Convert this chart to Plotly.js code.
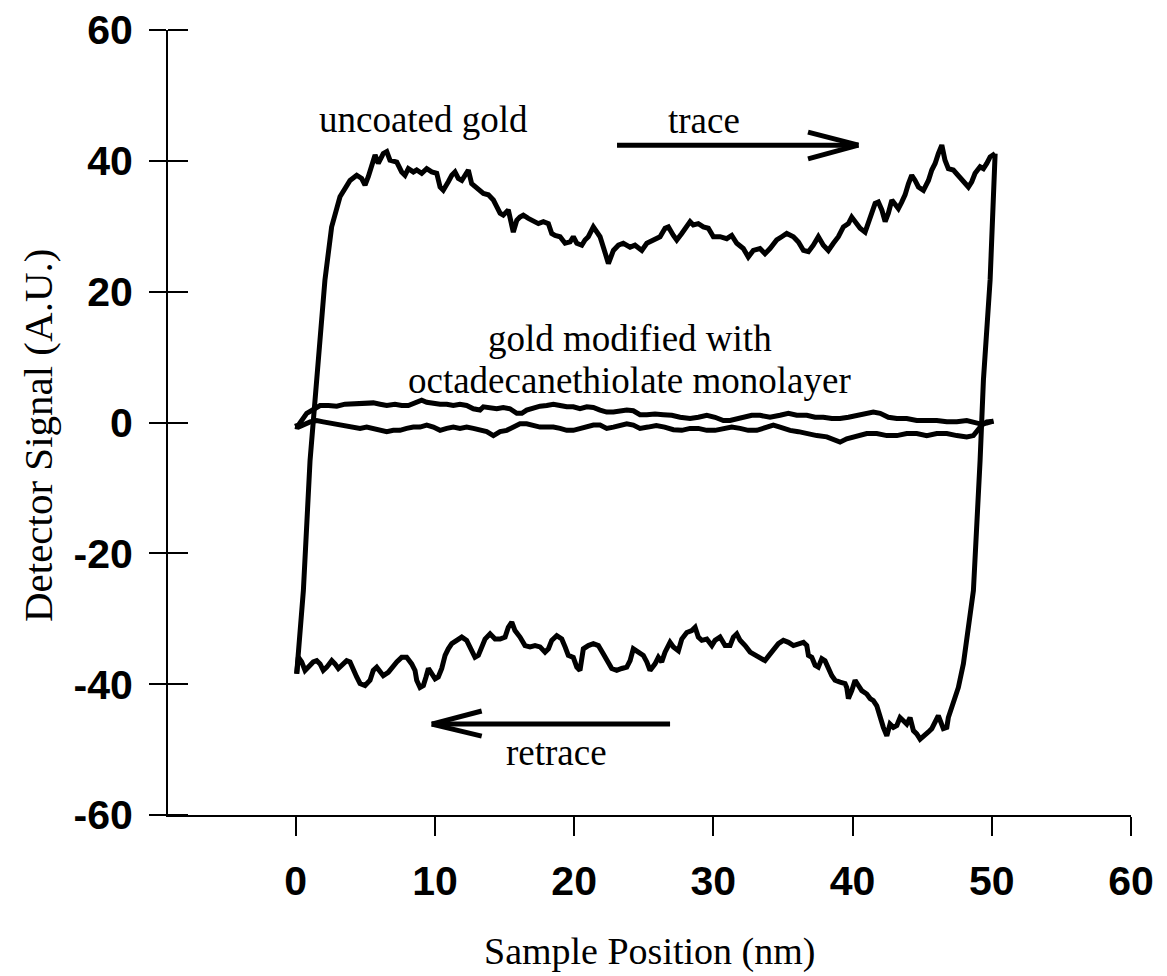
<!DOCTYPE html>
<html>
<head>
<meta charset="utf-8">
<script src="https://cdn.plot.ly/plotly-3.0.1.min.js"></script>
<style>
  html, body { margin: 0; padding: 0; background: #ffffff; }
  #chart { width: 1167px; height: 976px; }
</style>
</head>
<body>
<div id="chart"></div>
<script>
// ---- Tick labels ----
const xTickVals = [0, 10, 20, 30, 40, 50, 60];
const xTickText = ['0', '10', '20', '30', '40', '50', '60'];
const yTickVals = [-60, -40, -20, 0, 20, 40, 60];
const yTickText = ['-60', '-40', '-20', '0', '20', '40', '60'];

// ---- Uncoated gold: trace (left -> right, top branch) ----
const uncoatedTraceX = [0.07,0.55,1.03,1.51,2.10,2.58,3.18,3.90,4.38,4.74,4.98,5.22,5.53,5.70,5.93,6.06,6.29,6.54,6.77,7.26,7.61,7.85,8.09,8.45,8.69,9.05,9.41,9.77,10.13,10.37,10.60,10.96,11.21,11.44,11.68,11.93,12.16,12.40,12.64,13.00,13.48,13.84,14.20,14.44,14.68,14.91,15.27,15.63,15.88,16.11,16.35,16.71,17.07,17.43,17.79,18.15,18.39,18.63,18.99,19.35,19.71,19.94,20.19,20.55,20.78,21.02,21.38,21.62,21.86,22.10,22.46,22.82,23.18,23.53,24.02,24.37,24.86,25.22,25.69,26.17,26.53,26.77,27.13,27.37,27.73,28.09,28.33,28.56,28.92,29.28,29.64,30.00,30.48,30.96,31.32,31.68,32.15,32.51,32.87,33.35,33.71,34.07,34.55,34.91,35.27,35.75,36.11,36.47,36.83,37.18,37.54,37.90,38.26,38.62,38.98,39.34,39.70,39.94,40.18,40.54,40.90,41.13,41.38,41.62,41.85,42.10,42.34,42.57,42.82,43.05,43.29,43.53,43.77,44.01,44.25,44.49,44.73,45.09,45.45,45.69,45.93,46.16,46.41,46.64,46.88,47.24,47.60,47.96,48.32,48.56,48.80,49.16,49.40,49.64,49.88,50.24];
const uncoatedTraceY = [-38.4,-25.7,-5.8,6.5,21.8,29.9,34.5,37.0,37.8,37.3,36.3,37.6,39.6,40.9,39.6,40.1,41.1,41.4,40.1,39.8,38.3,37.8,38.8,38.3,38.6,38.1,38.8,38.3,38.1,36.0,35.5,36.8,37.8,38.3,37.3,37.0,37.8,38.6,36.5,35.8,35.0,34.8,34.0,33.0,32.0,31.7,32.5,29.1,30.9,31.4,31.7,31.2,30.9,30.4,30.7,30.4,28.9,28.6,28.4,27.4,27.6,28.4,27.4,27.1,27.9,28.4,29.9,29.1,28.4,26.8,24.3,26.3,27.1,27.4,26.8,27.1,26.3,27.4,27.9,28.4,29.7,29.9,28.6,27.9,28.9,29.9,30.7,30.2,30.4,29.9,29.7,28.4,28.4,28.1,28.6,27.4,26.6,25.3,26.3,26.6,25.8,26.6,27.9,28.4,28.9,28.4,27.6,26.3,26.1,27.1,28.4,27.1,26.3,27.4,28.4,29.9,30.4,31.4,30.7,29.7,29.1,30.4,32.2,33.5,33.7,32.5,30.7,32.0,34.0,33.2,32.7,33.7,34.8,36.5,37.8,37.0,36.0,35.5,37.0,38.6,39.6,41.1,42.4,40.1,38.8,38.6,37.8,37.0,36.0,36.8,38.1,39.1,38.8,39.6,40.6,41.1];

// ---- Uncoated gold: retrace (right -> left, bottom branch) ----
const uncoatedRetraceX = [50.24,49.88,49.40,49.16,48.68,48.32,47.96,47.60,47.24,46.88,46.77,46.52,46.16,45.93,45.69,45.45,45.09,44.85,44.61,44.37,44.13,43.89,43.65,43.41,43.18,42.93,42.69,42.46,42.21,41.98,41.74,41.49,41.26,41.02,40.66,40.42,40.18,39.94,39.70,39.58,39.46,39.10,38.74,38.51,38.26,38.02,37.79,37.54,37.31,37.07,36.83,36.71,36.47,36.11,35.75,35.39,35.03,34.67,34.31,34.07,33.71,33.35,32.99,32.64,32.28,31.92,31.68,31.44,31.20,30.84,30.48,30.12,29.89,29.53,29.17,28.92,28.69,28.45,28.09,27.73,27.49,27.13,26.89,26.53,26.29,26.05,25.81,25.45,25.22,24.97,24.61,24.25,24.02,23.78,23.42,23.06,22.70,22.46,22.10,21.74,21.38,21.02,20.66,20.42,20.19,19.94,19.58,19.35,19.11,18.75,18.39,18.15,17.91,17.55,17.19,16.83,16.47,16.11,15.75,15.52,15.27,15.04,14.68,14.32,13.96,13.60,13.36,13.12,12.88,12.64,12.28,11.93,11.57,11.21,10.96,10.73,10.49,10.24,10.01,9.77,9.53,9.36,9.17,8.93,8.69,8.57,8.33,7.97,7.61,7.26,6.90,6.65,6.29,6.06,5.82,5.57,5.34,4.98,4.62,4.38,4.14,3.90,3.66,3.30,3.06,2.82,2.59,2.23,1.98,1.75,1.51,1.26,0.91,0.67,0.43,0.19,0.07];
const uncoatedRetraceY = [41.1,21.8,6.5,-5.8,-25.7,-30.8,-36.9,-40.5,-43.0,-45.1,-46.6,-46.8,-44.8,-45.8,-46.8,-47.3,-48.1,-48.4,-47.6,-47.1,-45.1,-46.1,-45.6,-45.1,-46.3,-46.6,-46.1,-47.9,-46.6,-45.1,-43.3,-42.5,-42.2,-41.5,-41.0,-40.2,-39.4,-41.0,-42.2,-40.5,-39.9,-39.7,-39.4,-38.7,-37.6,-36.4,-36.1,-37.4,-37.1,-35.9,-35.6,-34.1,-33.6,-33.8,-34.1,-33.6,-33.3,-33.8,-34.6,-35.4,-36.4,-35.9,-35.4,-35.1,-34.1,-33.3,-32.3,-32.8,-34.1,-34.1,-32.8,-33.3,-34.1,-33.1,-33.3,-32.8,-31.3,-31.8,-32.1,-33.1,-34.9,-34.3,-33.6,-35.1,-36.6,-35.9,-36.9,-37.9,-36.6,-35.6,-35.1,-34.6,-36.4,-37.4,-37.6,-37.9,-37.6,-36.6,-35.4,-34.1,-33.8,-34.1,-34.6,-37.9,-37.4,-35.9,-35.6,-34.3,-33.1,-32.6,-33.3,-34.6,-35.1,-34.3,-34.1,-34.3,-34.1,-32.8,-31.8,-30.5,-31.3,-32.8,-33.1,-33.1,-32.3,-33.1,-34.3,-35.6,-35.9,-34.9,-33.3,-32.8,-33.3,-33.8,-34.6,-35.6,-37.6,-38.9,-39.2,-38.4,-37.6,-38.9,-40.2,-40.5,-39.4,-37.9,-36.9,-35.9,-35.9,-36.6,-37.6,-38.2,-38.7,-37.9,-37.4,-37.9,-39.4,-40.2,-39.9,-38.9,-37.6,-36.6,-36.4,-37.1,-37.6,-36.9,-36.4,-37.4,-37.9,-36.9,-36.4,-36.6,-37.4,-37.9,-36.6,-35.9,-38.4];

// ---- Gold modified with octadecanethiolate monolayer ----
const monoTraceX = [-0.05,0.19,0.79,1.27,1.75,2.35,2.95,3.54,4.14,4.62,5.10,5.58,6.06,6.54,7.13,7.61,8.09,8.57,9.05,9.41,9.89,10.37,10.85,11.32,11.80,12.28,12.76,13.24,13.48,13.96,14.44,14.91,15.39,15.88,16.24,16.59,17.07,17.55,18.03,18.51,18.99,19.47,19.94,20.42,20.91,21.38,21.86,22.34,22.82,23.30,23.78,24.25,24.73,25.22,25.81,26.41,27.01,27.61,28.33,28.92,29.53,30.12,30.72,31.20,31.68,32.16,32.76,33.35,34.07,34.79,35.39,35.99,36.71,37.31,37.90,38.51,39.10,39.70,40.30,41.02,41.49,41.98,42.57,43.18,43.89,44.61,45.33,46.05,46.77,47.49,48.20,48.68,49.16,49.64,50.12];
const monoTraceY = [-0.6,-0.4,1.4,2.1,2.6,2.6,2.5,2.8,2.9,3.0,3.1,3.0,2.8,2.6,2.8,2.6,2.6,3.0,3.4,3.1,2.9,2.8,2.8,2.6,2.8,2.6,2.1,1.9,2.4,2.3,2.1,2.3,2.1,1.4,1.4,1.9,2.3,2.5,2.6,2.8,2.6,2.4,2.4,2.1,2.4,2.3,1.9,1.6,1.6,1.8,1.9,1.8,1.2,1.2,1.3,1.2,1.1,0.8,0.6,0.8,1.1,0.8,0.3,0.3,0.6,0.8,1.1,1.1,0.8,1.1,1.4,1.1,1.1,0.8,0.8,0.6,0.6,0.8,1.1,1.4,1.6,1.4,0.8,0.6,0.6,0.3,0.3,0.3,0.1,0.1,0.3,0.1,-0.2,-0.1,0.2];
const monoRetraceX = [-0.05,0.19,1.03,1.51,1.98,2.70,3.42,4.14,4.62,5.10,5.58,6.06,6.54,7.01,7.49,7.97,8.45,8.93,9.41,9.89,10.37,10.85,11.32,11.80,12.28,12.76,13.24,13.72,14.20,14.68,15.16,15.63,16.11,16.59,17.07,17.55,18.03,18.51,18.99,19.47,19.94,20.42,20.91,21.38,21.86,22.34,22.82,23.30,23.78,24.25,24.73,25.30,25.90,26.50,27.13,27.73,28.33,28.92,29.53,30.12,30.72,31.32,31.92,32.51,33.12,33.84,34.31,34.79,35.51,36.11,36.71,37.43,38.15,38.74,39.10,39.58,40.30,41.02,41.74,42.46,43.18,43.89,44.61,45.33,46.05,46.77,47.49,48.20,48.68,49.04,49.28,49.64,50.12];
const monoRetraceY = [-0.6,-0.7,0.1,0.3,0.1,-0.2,-0.4,-0.7,-0.9,-0.7,-0.9,-1.2,-1.4,-1.2,-1.2,-0.9,-0.7,-0.7,-0.4,-0.7,-1.2,-0.9,-0.7,-0.9,-0.7,-0.9,-1.2,-1.4,-2.0,-1.4,-1.2,-0.7,-0.2,-0.2,-0.4,-0.7,-0.7,-0.7,-0.9,-1.2,-1.2,-0.9,-0.7,-0.4,-0.4,-0.9,-0.7,-0.4,-0.2,-0.4,-0.9,-0.7,-0.45,-0.7,-1.1,-1.2,-0.9,-0.9,-1.2,-1.2,-0.9,-0.7,-0.9,-1.2,-1.2,-0.7,-0.4,-0.7,-1.2,-1.4,-1.7,-2.0,-2.2,-2.7,-3.0,-2.5,-2.0,-1.7,-1.7,-2.0,-2.0,-1.7,-1.7,-2.0,-1.7,-1.7,-2.0,-2.2,-2.0,-1.2,-0.4,0.1,0.2];

// ---- Text ----
const labelUncoated = 'uncoated gold';
const labelMono1 = 'gold modified with';
const labelMono2 = 'octadecanethiolate monolayer';
const labelTrace = 'trace';
const labelRetrace = 'retrace';
const xTitle = 'Sample Position (nm)';
const yTitle = 'Detector Signal (A.U.)';

const lineStyle = { color: '#000000', width: 5 };
function series(x, y, axis) {
  return { x: x, y: y, type: 'scatter', mode: 'lines', line: lineStyle,
           hoverinfo: 'skip', yaxis: axis || 'y' };
}

// monolayer loop drawn on the overlaid twin axis (identical range)
const data = [
  series(uncoatedTraceX, uncoatedTraceY),
  series(uncoatedRetraceX, uncoatedRetraceY),
  series(monoTraceX, monoTraceY, 'y2'),
  series(monoRetraceX, monoRetraceY, 'y2')
];

const serif = 'Liberation Serif, Times New Roman, serif';
const sans = 'Liberation Sans, Arial, Helvetica, sans-serif';
const tickFont = { family: sans, size: 41, weight: 'bold', color: '#000000' };
const annFont = { family: serif, size: 37, color: '#000000' };

function txt(text, x, y, extra) {
  return Object.assign({ text: text, x: x, y: y, xref: 'x', yref: 'y',
    showarrow: false, xanchor: 'center', yanchor: 'middle', font: annFont }, extra || {});
}

const arrowLine = { color: '#000000', width: 5 };
function seg(x0, y0, x1, y1) {
  return { type: 'line', xref: 'x', yref: 'y', x0: x0, y0: y0, x1: x1, y1: y1, line: arrowLine };
}

const layout = {
  width: 1167, height: 976,
  margin: { l: 168, r: 36, t: 30, b: 161, pad: 0 },
  paper_bgcolor: '#ffffff', plot_bgcolor: '#ffffff',
  showlegend: false,
  xaxis: {
    range: [-9.174, 60], tickvals: xTickVals, ticktext: xTickText,
    ticks: 'outside', ticklen: 19, tickwidth: 2, tickcolor: '#000000',
    showline: true, linewidth: 2, linecolor: '#000000',
    showgrid: false, zeroline: false, tickfont: tickFont, ticklabelstandoff: 10
  },
  yaxis: {
    range: [-60, 60], tickvals: yTickVals, ticktext: yTickText,
    ticks: 'outside', ticklen: 17, tickwidth: 2, tickcolor: '#000000',
    showline: true, linewidth: 2, linecolor: '#000000',
    showgrid: false, zeroline: false, tickfont: tickFont, ticklabelstandoff: 8,
    minor: { tickvals: yTickVals, ticks: 'inside', ticklen: 20, tickwidth: 2,
             tickcolor: '#000000', showgrid: false }
  },
  yaxis2: {
    overlaying: 'y', anchor: 'x', side: 'left', range: [-60, 60], tickvals: yTickVals,
    ticks: 'inside', ticklen: 20, tickwidth: 2, tickcolor: '#000000',
    showticklabels: false, showline: false, showgrid: false, zeroline: false
  },
  annotations: [
    txt(labelUncoated, 9.17, 46.3),
    txt(labelTrace, 29.3, 46.1),
    txt(labelMono1, 24.0, 12.8),
    txt(labelMono2, 24.0, 6.4),
    txt(labelRetrace, 18.7, -50.5),
    { text: xTitle, xref: 'paper', yref: 'paper', x: 0.5, y: -0.1745,
      xanchor: 'center', yanchor: 'middle', showarrow: false, font: { family: serif, size: 38, color: '#000000' } },
    { text: yTitle, xref: 'paper', yref: 'paper', x: -0.135, y: 0.484, textangle: -90,
      xanchor: 'center', yanchor: 'middle', showarrow: false, font: { family: serif, size: 41, color: '#000000' } }
  ],
  shapes: [
    seg(23.08, 42.4, 40.42, 42.4),
    seg(36.8, 44.4, 40.42, 42.4),
    seg(36.8, 40.3, 40.42, 42.4),
    seg(9.77, -46.1, 26.89, -46.1),
    seg(13.36, -44.1, 9.77, -46.1),
    seg(13.36, -47.95, 9.77, -46.1)
  ]
};

Plotly.newPlot('chart', data, layout, { staticPlot: true, displayModeBar: false });
</script>
</body>
</html>
